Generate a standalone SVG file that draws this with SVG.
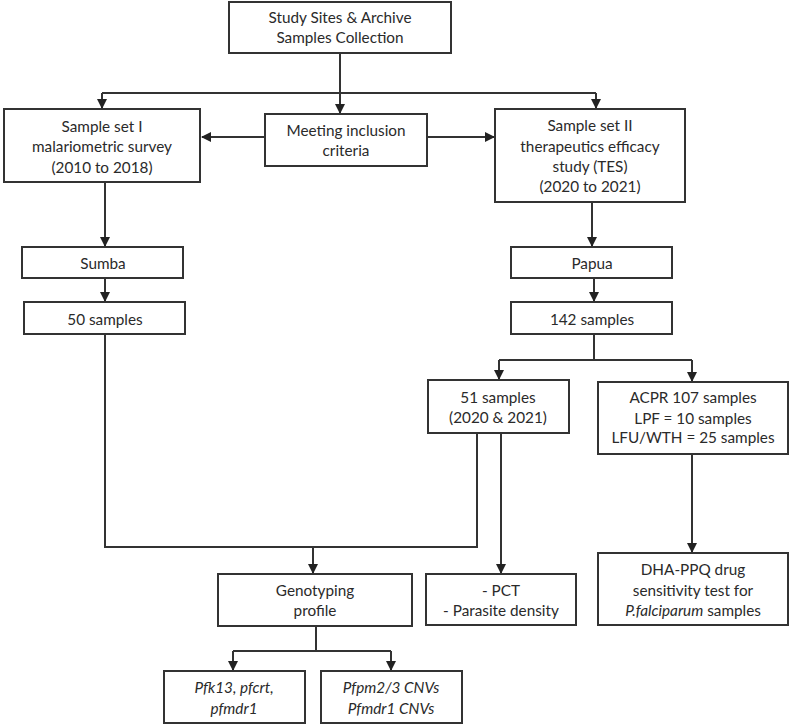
<svg xmlns="http://www.w3.org/2000/svg" width="797" height="727" viewBox="0 0 797 727">
<defs>
<marker id="ah" markerWidth="10" markerHeight="10" refX="9" refY="5" orient="auto" markerUnits="userSpaceOnUse">
<path d="M0,0 L10,5 L0,10 z" fill="#222"/>
</marker>
<style>
.box{fill:#fff;stroke:#333;stroke-width:2}
.t{font-family:Lato,"Open Sans","Liberation Sans",sans-serif;font-size:15.3px;fill:#2a2a2a;text-anchor:middle;dominant-baseline:central}
.i{font-style:italic}
.c{fill:none;stroke:#333;stroke-width:2}
.a{marker-end:url(#ah)}
</style>
</defs>
<rect width="797" height="727" fill="#fff"/>
<g id="connectors">
<path class="c a" d="M340,53 V113"/>
<path class="c" d="M102,93 H596"/>
<path class="c a" d="M102,93 V108"/>
<path class="c a" d="M596,93 V108"/>
<path class="c a" d="M265,137 H202"/>
<path class="c a" d="M427,137 H494"/>
<path class="c a" d="M105,182 V246"/>
<path class="c a" d="M592,202 V246"/>
<path class="c a" d="M105,278 V301"/>
<path class="c a" d="M594,278 V301"/>
<path class="c" d="M594,334 V360 M499,360 H692"/>
<path class="c a" d="M499,360 V379"/>
<path class="c a" d="M692,360 V381"/>
<path class="c" d="M105,334 V547 H477 V433"/>
<path class="c a" d="M313,547 V573"/>
<path class="c a" d="M501,433 V573"/>
<path class="c a" d="M692,454 V552"/>
<path class="c" d="M316,626 V651 M233,651 H391"/>
<path class="c a" d="M233,651 V670"/>
<path class="c a" d="M391,651 V670"/>
</g>
<g id="n-top"><rect class="box" x="229" y="2" width="222" height="51"/>
<text class="t" x="340" y="17">Study Sites &amp; Archive</text><text class="t" x="340" y="37">Samples Collection</text></g>
<g id="n-set1"><rect class="box" x="4" y="109" width="196" height="73"/>
<text class="t" x="102" y="126">Sample set I</text><text class="t" x="102" y="146">malariometric survey</text><text class="t" x="102" y="167">(2010 to 2018)</text></g>
<g id="n-meet"><rect class="box" x="265" y="114" width="162" height="52"/>
<text class="t" x="346" y="130">Meeting inclusion</text><text class="t" x="346" y="150">criteria</text></g>
<g id="n-set2"><rect class="box" x="495" y="109" width="190" height="93"/>
<text class="t" x="590" y="125">Sample set II</text><text class="t" x="590" y="146">therapeutics efficacy</text><text class="t" x="590" y="166">study (TES)</text><text class="t" x="590" y="186">(2020 to 2021)</text></g>
<g id="n-sumba"><rect class="box" x="22" y="247" width="161" height="31"/>
<text class="t" x="103" y="263">Sumba</text></g>
<g id="n-50"><rect class="box" x="24" y="302" width="161" height="32"/>
<text class="t" x="105" y="319">50 samples</text></g>
<g id="n-papua"><rect class="box" x="511" y="247" width="161" height="31"/>
<text class="t" x="592" y="263">Papua</text></g>
<g id="n-142"><rect class="box" x="511" y="302" width="161" height="32"/>
<text class="t" x="592" y="319">142 samples</text></g>
<g id="n-51"><rect class="box" x="428" y="380" width="141" height="53"/>
<text class="t" x="498" y="397">51 samples</text><text class="t" x="498" y="417">(2020 &amp; 2021)</text></g>
<g id="n-acpr"><rect class="box" x="598" y="382" width="190" height="72"/>
<text class="t" x="693" y="397">ACPR 107 samples</text><text class="t" x="693" y="418">LPF = 10 samples</text><text class="t" x="693" y="437">LFU/WTH = 25 samples</text></g>
<g id="n-geno"><rect class="box" x="218" y="574" width="194" height="52"/>
<text class="t" x="315" y="590">Genotyping</text><text class="t" x="315" y="610">profile</text></g>
<g id="n-pct"><rect class="box" x="426" y="574" width="150" height="51"/>
<text class="t" x="501" y="590">- PCT</text><text class="t" x="501" y="610">- Parasite density</text></g>
<g id="n-dha"><rect class="box" x="598" y="553" width="190" height="72"/>
<text class="t" x="693" y="569">DHA-PPQ drug</text><text class="t" x="693" y="590">sensitivity test for</text><text class="t" x="693" y="610"><tspan class="i">P.falciparum</tspan> samples</text></g>
<g id="n-pfk"><rect class="box" x="164" y="671" width="141" height="52"/>
<text class="t i" x="234" y="687">Pfk13, pfcrt,</text><text class="t i" x="234" y="708">pfmdr1</text></g>
<g id="n-cnv"><rect class="box" x="321" y="671" width="141" height="52"/>
<text class="t i" x="391" y="687">Pfpm2/3 CNVs</text><text class="t i" x="391" y="708">Pfmdr1 CNVs</text></g>
</svg>
